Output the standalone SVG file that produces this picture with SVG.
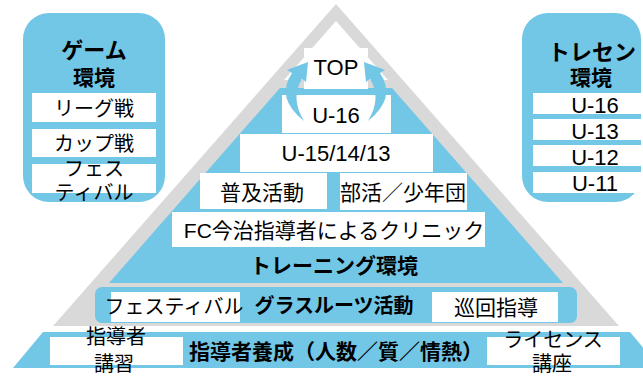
<svg xmlns="http://www.w3.org/2000/svg" width="643" height="376" viewBox="0 0 643 376">
<style>
.blue{fill:#72C6E6}
.grey{fill:#D9D9D9}
.wb{fill:#FFFFFF}
text{font-family:"Liberation Sans","Noto Sans CJK JP",sans-serif;fill:#000;text-anchor:middle}
.t21{font-size:21px}
.t20{font-size:20px}
.t22{font-size:22px}
.b{font-weight:bold}
</style>
<rect width="643" height="376" fill="#FFFFFF"/>
<g id="pyramid-frame">
<polygon class="grey" points="336,4 53,326 619,326"/>
<polygon class="wb" points="336,21 284,80 388,80"/>
</g>
<g id="training">
<polygon class="blue" points="280,88 392,88 563,283 109,283"/>
<rect class="wb" x="282" y="95" width="109" height="38"/>
<text class="t22" x="336" y="123">U-16</text>
<rect class="wb" x="240" y="134" width="193" height="38"/>
<text class="t22" x="336" y="161">U-15/14/13</text>
<rect class="wb" x="200" y="173" width="127" height="36"/>
<text class="t21" x="262" y="200">普及活動</text>
<rect class="wb" x="340" y="173" width="127" height="37"/>
<text class="t21" x="403" y="200">部活／少年団</text>
<rect class="wb" x="172" y="212" width="313" height="35"/>
<text class="t21" x="334" y="238">FC今治指導者によるクリニック</text>
<text class="t21 b" x="334" y="273">トレーニング環境</text>
</g>
<g id="top">
<rect class="wb" x="304" y="48" width="64" height="41"/>
<text class="t22" x="336" y="75">TOP</text>
</g>
<g id="connectors">
<path class="blue" d="M292,73 Q275,98 304,121 Q290,98 302,79 L306,82 L308,62 L287,70 Z"/>
<path class="blue" d="M380,73 Q397,98 368,121 Q382,98 370,79 L366,82 L364,62 L385,70 Z"/>
</g>
<g id="grassroots">
<rect class="blue" x="95" y="287" width="482" height="36" rx="7"/>
<rect class="wb" x="111" y="292" width="129" height="30"/>
<text class="t20" x="174" y="314">フェスティバル</text>
<text class="t20 b" x="334" y="313">グラスルーツ活動</text>
<rect class="wb" x="432" y="292" width="126" height="30"/>
<text class="t21" x="496" y="315">巡回指導</text>
</g>
<g id="coach">
<polygon class="blue" points="43,332 630,332 660,368 13,368"/>
<rect class="wb" x="50" y="337" width="133" height="28"/>
<text class="t20" x="116" y="344">指導者</text>
<text class="t20" x="114" y="371">講習</text>
<text class="t21 b" x="336" y="359">指導者養成（人数／質／情熱）</text>
<rect class="wb" x="487" y="337" width="133" height="28"/>
<text class="t20" x="553" y="347">ライセンス</text>
<text class="t20" x="552" y="371">講座</text>
</g>
<g id="game-env">
<rect class="blue" x="23" y="13" width="142" height="189" rx="26"/>
<text class="t22 b" x="94" y="58">ゲーム</text>
<text class="t21 b" x="94" y="85">環境</text>
<rect class="wb" x="32" y="93" width="124" height="29"/>
<text class="t20" x="94" y="116">リーグ戦</text>
<rect class="wb" x="32" y="129" width="124" height="28"/>
<text class="t20" x="94" y="151">カップ戦</text>
<rect class="wb" x="32" y="164" width="124" height="29"/>
<text class="t20" x="94" y="176">フェス</text>
<text class="t20" x="94" y="200">ティバル</text>
</g>
<g id="tresen-env">
<rect class="blue" x="522" y="13" width="119" height="189" rx="26"/>
<text class="t22 b" x="592" y="60">トレセン</text>
<text class="t21 b" x="591" y="85">環境</text>
<rect class="wb" x="533" y="93" width="110" height="21"/>
<text class="t22" x="595" y="113">U-16</text>
<rect class="wb" x="533" y="119" width="110" height="21"/>
<text class="t22" x="595" y="139">U-13</text>
<rect class="wb" x="533" y="145" width="110" height="21"/>
<text class="t22" x="595" y="165">U-12</text>
<rect class="wb" x="533" y="172" width="110" height="21"/>
<text class="t22" x="595" y="191">U-11</text>
</g>
</svg>
